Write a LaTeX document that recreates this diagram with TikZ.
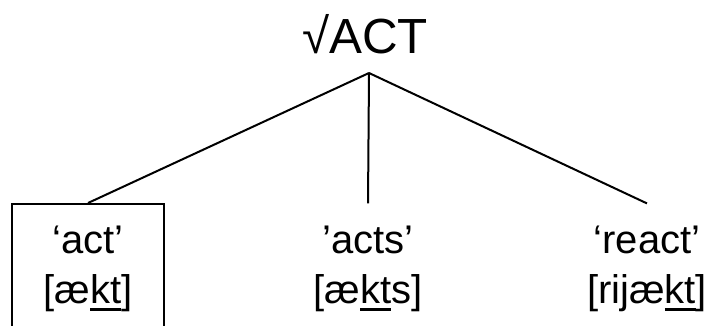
\documentclass[tikz,border=0pt]{standalone}
\usepackage{fontspec}
\setmainfont{Liberation Sans}
\newcommand{\seg}[1]{\setbox0\hbox{#1}\rlap{\rule[-5pt]{\wd0}{1.6pt}}\box0}

\begin{document}
\begin{tikzpicture}[x=0.75pt, y=-0.75pt, line width=1.5pt,
        leaf/.style={align=center, inner xsep=0pt, inner ysep=16pt, font=\fontsize{30}{38}\selectfont}]
        \useasboundingbox (0,0) rectangle (712,325);
        \node[font=\fontsize{37}{44}\selectfont, inner sep=0pt, anchor=base] (root) at (365,53) {√ACT};
        \coordinate (top) at (369,73);
        \node[leaf, draw, inner ysep=0pt, minimum width=114pt, minimum height=97.5pt] (act) at (88,269) {‘act’\\{[}æ\seg{kt}]};
        \node[leaf] (acts) at (368,269) {’acts’\\{[}æ\seg{kt}s]};
        \node[leaf] (react) at (647,269) {‘react’\\{[}rijæ\seg{kt}]};
        \draw (top) -- (act.north);
        \draw (top) -- (acts.north);
        \draw (top) -- (react.north);
\end{tikzpicture}
\end{document}
